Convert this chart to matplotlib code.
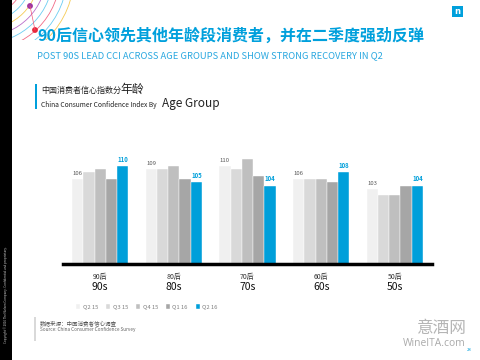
import matplotlib
matplotlib.use("Agg")
import matplotlib.pyplot as plt
import numpy as np
from matplotlib.patches import Rectangle, Arc, Circle

plt.rcParams['font.family'] = ['Noto Sans CJK SC', 'DejaVu Sans']

groups_cn = ["90后", "80后", "70后", "60后", "50后"]
groups_en = ["90s", "80s", "70s", "60s", "50s"]
series = ["Q2 15", "Q3 15", "Q4 15", "Q1 16", "Q2 16"]
q2_15 = [106, 109, 110, 106, 103]
q3_15 = [108, 109, 109, 106, 101]
q4_15 = [109, 110, 112, 106, 101]
q1_16 = [106, 106, 107, 105, 104]
q2_16 = [110, 105, 104, 108, 104]
values = [q2_15, q3_15, q4_15, q1_16, q2_16]
colors = ["#f0f0f0", "#d9d9d9", "#bfbfbf", "#a6a6a6", "#009fda"]

W, H = 480, 360
fig = plt.figure(figsize=(4.8, 3.6), dpi=100)

def fx(x):
    return x / W

def fy(y):
    return 1 - y / H

BLUE = "#00a0dc"

# left black strip
fig.patches.append(Rectangle((0, 0), fx(12), 1, transform=fig.transFigure,
                             facecolor="black", edgecolor="none", zorder=0))
fig.text(fx(6), fy(295), "Copyright © 2016 The Nielsen Company. Confidential and proprietary.",
         rotation=90, color="#cccccc", fontsize=2.2, ha="center", va="center")

# decorative arcs top-left
arc_cols = ["#f05a78", "#5bc8f0", "#f4c542", "#b35cc4", "#5bc8f0", "#f05a78", "#5bc8f0", "#f4c542"]
ax_dec = fig.add_axes([0, fy(40), fx(80), 40 / H])
ax_dec.set_xlim(0, 80)
ax_dec.set_ylim(40, 0)
ax_dec.axis("off")
for i, c in enumerate(arc_cols):
    r = 40 + i * 7
    ax_dec.add_patch(Arc((-15, -25), 2 * r, 2 * r, theta1=-90, theta2=90,
                         color=c, lw=0.6, alpha=0.9))
ax_dec.plot([30, 35], [6, 30], color="#f05a78", lw=0.5)
ax_dec.add_patch(Circle((30, 6), 2.2, color="#a0359e"))
ax_dec.add_patch(Circle((35, 30), 2.2, color="#e8283c"))

# Nielsen logo
fig.patches.append(Rectangle((fx(452), fy(17)), fx(11), 11 / H, transform=fig.transFigure,
                             facecolor=BLUE, edgecolor="none"))
fig.text(fx(457.5), fy(11.5), "n", color="white", fontsize=6, ha="center", va="center",
         fontweight="bold", family="DejaVu Sans")

# title / subtitle
fig.text(fx(37), fy(36), "90后信心领先其他年龄段消费者，并在二季度强劲反弹",
         color=BLUE, fontsize=11.5, fontweight="bold", ha="left", va="center")
fig.text(fx(37), fy(56), "POST 90S LEAD CCI ACROSS AGE GROUPS AND SHOW STRONG RECOVERY IN Q2",
         color="#2aa8e0", fontsize=6.75, ha="left", va="center")

# chart heading
fig.patches.append(Rectangle((fx(35), fy(109)), fx(2), 25 / H, transform=fig.transFigure,
                             facecolor=BLUE, edgecolor="none"))
t1 = fig.text(fx(41), fy(90), "中国消费者信心指数分", color="#222222", fontsize=5.8,
              ha="left", va="center")
fig.text(fx(120), fy(89), "年龄", color="#222222", fontsize=8.5, ha="left", va="center")
t2 = fig.text(fx(41), fy(105), "China Consumer Confidence Index By", color="#222222",
              fontsize=4.8, ha="left", va="center")
fig.text(fx(162), fy(104), "Age Group", color="#222222", fontsize=8.5, ha="left", va="center")

# main chart
ax_left, ax_right = 63.3, 431.7
ax_bottom, ax_top = 264, 150
ax = fig.add_axes([fx(ax_left), fy(ax_bottom), fx(ax_right - ax_left), (ax_bottom - ax_top) / H])
ymin = 80
ymax = ymin + (ax_bottom - ax_top) / 3.27
x = np.arange(len(groups_en))
bw = 0.153
for i, (vals, c, name) in enumerate(zip(values, colors, series)):
    pos = x + (i - 2) * bw
    ax.bar(pos, np.array(vals) - ymin, bottom=ymin, width=bw, color=c, label=name,
           edgecolor="white", linewidth=0.3)
    if i == 0:
        for p, v in zip(pos, vals):
            ax.text(p, v + 1.0, str(v), ha="center", va="bottom", fontsize=4.3, color="#595959")
    if i == 4:
        for p, v in zip(pos, vals):
            ax.text(p, v + 1.0, str(v), ha="center", va="bottom", fontsize=4.3, color="#009fda",
                    fontweight="bold")
ax.set_xlim(-0.5, len(groups_en) - 0.5)
ax.set_ylim(ymin, ymax)
for s in ["top", "right", "left"]:
    ax.spines[s].set_visible(False)
ax.spines["bottom"].set_linewidth(2.5)
ax.spines["bottom"].set_color("black")
ax.set_yticks([])
ax.set_xticks(x)
ax.set_xticklabels([])
ax.tick_params(axis="x", length=0)
for xi, cn, en in zip(x, groups_cn, groups_en):
    ax.annotate(cn, (xi, 0), xycoords=("data", "axes fraction"), xytext=(0, -13),
                textcoords="offset pixels", ha="center", va="center", fontsize=5.0, color="#333333")
    ax.annotate(en, (xi, 0), xycoords=("data", "axes fraction"), xytext=(0, -23),
                textcoords="offset pixels", ha="center", va="center", fontsize=7.5, color="#111111")

leg = fig.legend(loc="center", bbox_to_anchor=(fx(147), fy(307)), ncol=5, frameon=False,
                 fontsize=4.2, handlelength=0.7, handleheight=0.7, handletextpad=0.4,
                 columnspacing=1.4, labelcolor="#808080")

# source
fig.patches.append(Rectangle((fx(34), fy(341)), fx(2), 24 / H, transform=fig.transFigure,
                             facecolor="#d9d9d9", edgecolor="none"))
fig.text(fx(40), fy(323), "数据来源：中国消费者信心调查", color="#555555", fontsize=4.0,
         style="italic", ha="left", va="center")
fig.text(fx(40), fy(330), "Source: China Consumer Confidence Survey", color="#666666",
         fontsize=3.4, style="italic", ha="left", va="center")

# watermark
fig.text(fx(442), fy(329), "意酒网", color="#b5b5b5", fontsize=12, ha="center", va="center")
fig.text(fx(434), fy(344), "WineITA.com", color="#aaaaaa", fontsize=7.4, ha="center", va="center",
         family=["Open Sans", "DejaVu Sans"])
fig.text(fx(469), fy(350), "28", color=BLUE, fontsize=3, ha="center", va="center")

fig.savefig("out.png", dpi=100)
